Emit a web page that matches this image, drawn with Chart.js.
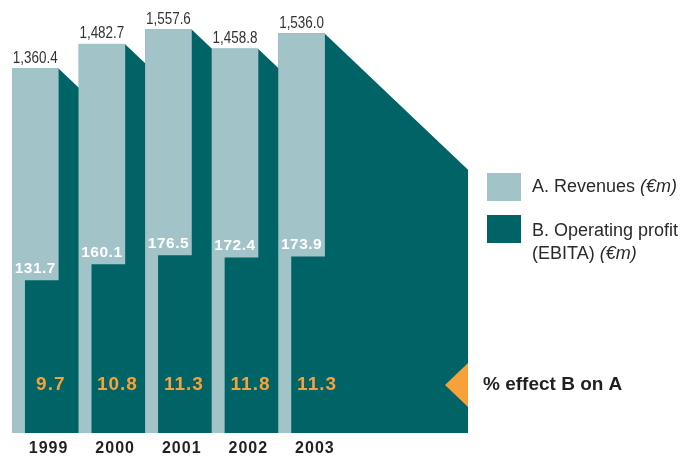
<!DOCTYPE html>
<html>
<head>
<meta charset="utf-8">
<script src="https://cdn.jsdelivr.net/npm/chart.js@4.4.1/dist/chart.umd.min.js"></script>
<style>
  html, body { margin: 0; padding: 0; background: #fff; }
</style>
</head>
<body>
<canvas id="grafica" width="686" height="456"></canvas>
<script>
const anios = ["1999", "2000", "2001", "2002", "2003"];
const ingresos = [1360.4, 1482.7, 1557.6, 1458.8, 1536.0];
const ebita = [131.7, 160.1, 176.5, 172.4, 173.9];
const efecto = [9.7, 10.8, 11.3, 11.8, 11.3];

const claro = '#a2c3c8';
const oscuro = '#006366';
const naranja = '#f7a13b';
const texto = '#231f20';

// los ejes no empiezan en cero
const minIngresos = -480;
const minEbita = -140;

const fmt = (v) => v.toLocaleString('en-US', { minimumFractionDigits: 1, maximumFractionDigits: 1 });

// sombra oscura detras de cada barra, en diagonal hacia la derecha
const pendiente = 0.95;

const dibujo = {
    id: 'dibujo',
    beforeDatasetsDraw(chart) {
        const { ctx, chartArea } = chart;
        const barras = chart.getDatasetMeta(0).data;
        ctx.save();
        ctx.beginPath();
        ctx.rect(chartArea.left, chartArea.top, chartArea.right - chartArea.left, chartArea.bottom - chartArea.top);
        ctx.clip();
        ctx.fillStyle = oscuro;
        barras.forEach((b) => {
            const izq = b.x - b.width / 2;
            const der = b.x + b.width / 2;
            const fin = chartArea.right;
            ctx.beginPath();
            ctx.moveTo(izq, b.y);
            ctx.lineTo(der, b.y);
            ctx.lineTo(fin, b.y + pendiente * (fin - der));
            ctx.lineTo(fin, b.base);
            ctx.lineTo(izq, b.base);
            ctx.closePath();
            ctx.fill();
        });
        ctx.restore();
    },
    afterDatasetsDraw(chart) {
        const { ctx, chartArea, scales } = chart;
        const barras = chart.getDatasetMeta(0).data;
        const oscuras = chart.getDatasetMeta(1).data;
        const x = scales.x;
        const filaPct = chartArea.bottom - 48;

        ctx.save();
        ctx.textAlign = 'center';
        ctx.textBaseline = 'middle';

        // ingresos sobre cada barra (letra estrecha)
        ctx.fillStyle = '#333';
        ctx.font = '16px "Liberation Sans", Arial, sans-serif';
        barras.forEach((b, i) => {
            ctx.save();
            ctx.translate(b.x, b.y - 10);
            ctx.scale(0.84, 1);
            ctx.fillText(fmt(ingresos[i]), 0, 0);
            ctx.restore();
        });

        // EBITA en blanco justo encima de la barra oscura
        ctx.fillStyle = '#fff';
        ctx.font = 'bold 15.5px "Liberation Sans", Arial, sans-serif';
        ctx.letterSpacing = '0.5px';
        oscuras.forEach((b, i) => {
            ctx.fillText(fmt(ebita[i]), barras[i].x, b.y - 12);
        });

        // porcentaje B sobre A
        ctx.fillStyle = naranja;
        ctx.font = 'bold 19px "Liberation Sans", Arial, sans-serif';
        ctx.letterSpacing = '1px';
        efecto.forEach((v, i) => {
            ctx.fillText(fmt(v), x.getPixelForValue(i + 0.233), filaPct);
        });

        // años
        ctx.fillStyle = texto;
        ctx.font = 'bold 16px "Liberation Sans", Arial, sans-serif';
        ctx.letterSpacing = '1px';
        anios.forEach((a, i) => {
            ctx.fillText(a, x.getPixelForValue(i + 0.2), chartArea.bottom + 16);
        });
        ctx.letterSpacing = '0px';

        // triangulo naranja
        const r = chartArea.right;
        ctx.fillStyle = naranja;
        ctx.beginPath();
        ctx.moveTo(r, filaPct - 22);
        ctx.lineTo(r - 23, filaPct);
        ctx.lineTo(r, filaPct + 22);
        ctx.closePath();
        ctx.fill();

        ctx.textAlign = 'left';
        ctx.fillStyle = texto;
        ctx.font = 'bold 19px "Liberation Sans", Arial, sans-serif';
        ctx.fillText('% effect B on A', 483, filaPct);

        // leyenda
        const partes = (lineas, x0, y0) => {
            lineas.forEach((l, n) => {
                let cx = x0;
                l.forEach(([t, cursiva]) => {
                    ctx.font = (cursiva ? 'italic ' : '') + '18px "Liberation Sans", Arial, sans-serif';
                    ctx.fillText(t, cx, y0 + n * 23);
                    cx += ctx.measureText(t).width;
                });
            });
        };
        ctx.fillStyle = claro;
        ctx.fillRect(487, 173, 34, 28);
        ctx.fillStyle = oscuro;
        ctx.fillRect(487, 215, 34, 28);
        ctx.fillStyle = '#2a2a2a';
        partes([[['A. Revenues ', false], ['(€m)', true]]], 532, 187);
        partes([[['B. Operating profit', false]], [['(EBITA) ', false], ['(€m)', true]]], 532, 231);

        ctx.restore();
    }
};

new Chart(document.querySelector('#grafica'), {
    type: 'bar',
    data: {
        datasets: [
            {
                label: 'A. Revenues (€m)',
                data: ingresos.map((v, i) => ({ x: i, y: v })),
                backgroundColor: claro,
                barThickness: 46,
                grouped: false,
                base: minIngresos,
                order: 2,
                yAxisID: 'y'
            },
            {
                label: 'B. Operating profit (EBITA) (€m)',
                data: ebita.map((v, i) => ({ x: i + 0.105, y: v })),
                backgroundColor: oscuro,
                barThickness: 34,
                grouped: false,
                base: minEbita,
                order: 1,
                yAxisID: 'y2'
            }
        ]
    },
    options: {
        responsive: false,
        animation: false,
        layout: { padding: { left: 2, right: 218, top: 0, bottom: 23 } },
        plugins: { legend: { display: false }, tooltip: { enabled: false } },
        scales: {
            x: { type: 'linear', min: -0.5, max: 6.5, offset: false, display: false },
            y: { min: minIngresos, max: 1705, display: false },
            y2: { min: minEbita, max: 632, display: false }
        }
    },
    plugins: [dibujo]
});
</script>
</body>
</html>
